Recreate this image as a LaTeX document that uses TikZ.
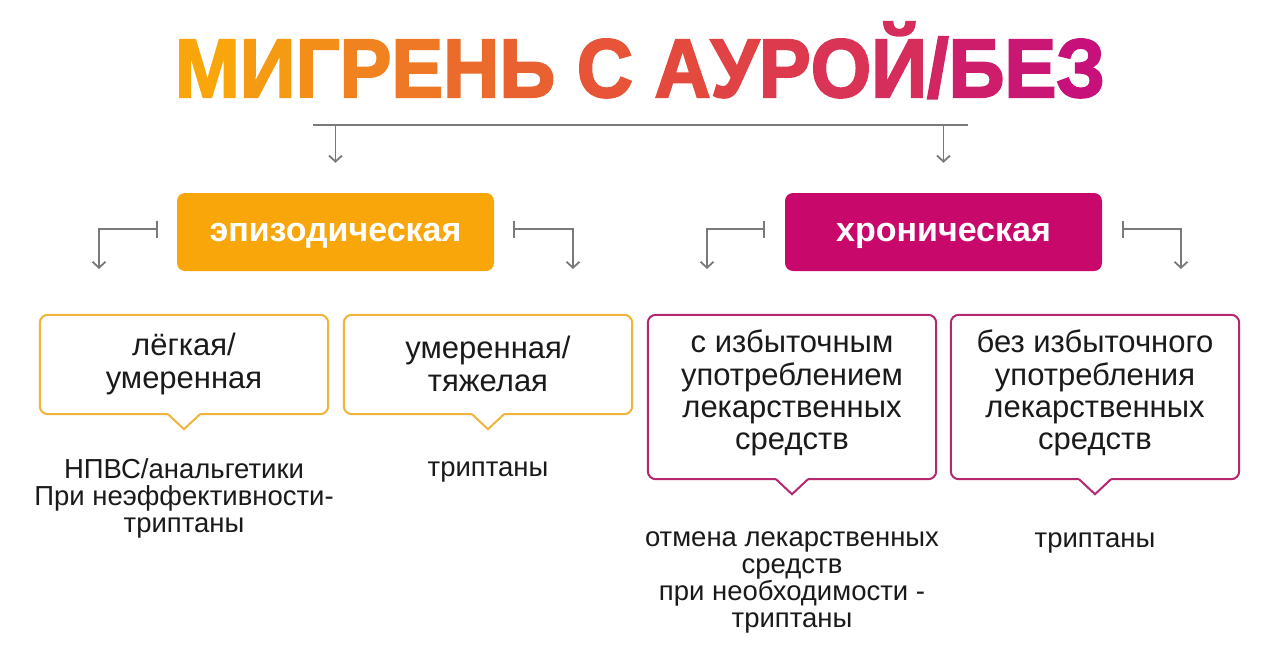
\documentclass[tikz,border=0pt]{standalone}
\usepackage{fontspec}
\usepackage{graphicx}
\setmainfont{Liberation Sans}
\newfontfamily\titlefont{Liberation Sans}[BoldFeatures={FakeBold=2.5}]
\usetikzlibrary{arrows.meta}
\definecolor{tO}{HTML}{F8A60C}
\definecolor{tR}{HTML}{E4493E}
\definecolor{tP}{HTML}{C7107A}
\definecolor{epi}{HTML}{F9A60A}
\definecolor{chr}{HTML}{C8096B}
\definecolor{epiL}{HTML}{F0B43C}
\definecolor{chrL}{HTML}{B5286F}
\definecolor{conncol}{HTML}{7A7A7A}
\definecolor{txt}{HTML}{1A1A1A}
\newcommand\lowered[1]{\raisebox{-4pt}[\height][\depth]{#1}}
\begin{document}
\begin{tikzpicture}[x=1pt,y=-1pt,
  conn/.style={draw=conncol, line width=1.8pt},
  arr/.style={conn, -{Straight Barb[length=6pt,width=13pt]}},
  side/.style={conn, {Bar[width=17pt]}-{Straight Barb[length=6pt,width=13pt]}},
  mainbox/.style={rounded corners=8pt, minimum width=317pt, minimum height=78pt, inner sep=0pt,
    text=white, font=\fontsize{34}{36}\selectfont\bfseries},
  frameA/.style={minimum width=288pt, minimum height=99pt, inner sep=0pt},
  frameB/.style={minimum width=288pt, minimum height=164pt, inner sep=0pt},
  boxtext/.style={align=center, inner sep=0pt, text=txt, font=\fontsize{31}{32.3}\selectfont},
  lowtext/.style={align=center, inner sep=0pt, text=txt, font=\fontsize{27.5}{27}\selectfont},
  outl/.style={line width=2pt, rounded corners=8pt}
]
\fill[white] (0,0) rectangle (1280,667);
\useasboundingbox (0,0) rectangle (1280,667);

% title
\node[anchor=base, inner sep=0pt] (title) at (640,97) {\resizebox{930pt}{\height}{\titlefont\bfseries\fontsize{83}{84}\selectfont
\textcolor{tO}{М}\textcolor{tO!87!tR}{И}\textcolor{tO!75!tR}{Г}\textcolor{tO!62!tR}{Р}\textcolor{tO!50!tR}{Е}\textcolor{tO!37!tR}{Н}\textcolor{tO!25!tR}{Ь} \textcolor{tO!12!tR}{С} \textcolor{tR}{А}\textcolor{tR!87!tP}{У}\textcolor{tR!75!tP}{Р}\textcolor{tR!62!tP}{О}\textcolor{tR!50!tP}{Й}\textcolor{tR!37!tP}{/}\textcolor{tR!25!tP}{Б}\textcolor{tR!12!tP}{Е}\textcolor{tP}{З}}};

% main boxes
\node[mainbox, fill=epi] (epi) at (335.5,232) {\lowered{эпизодическая}};
\node[mainbox, fill=chr] (chr) at (943.5,232) {\lowered{хроническая}};

% top connector
\coordinate (hl) at (313,125);
\coordinate (hr) at (968,125);
\draw[conn] (hl) -- (hr);
\draw[arr] (epi.north |- hl) -- ([yshift=30pt]epi.north);
\draw[arr] (chr.north |- hl) -- ([yshift=30pt]chr.north);

% side connectors
\coordinate (e1) at (99,269);
\coordinate (e2) at (573,269);
\coordinate (e3) at (707,269);
\coordinate (e4) at (1181,269);
\draw[side] ([xshift=-19pt,yshift=3pt]epi.west) -| (e1);
\draw[side] ([xshift=19pt,yshift=3pt]epi.east) -| (e2);
\draw[side] ([xshift=-20pt,yshift=3pt]chr.west) -| (e3);
\draw[side] ([xshift=20pt,yshift=3pt]chr.east) -| (e4);

% callout frames
\node[frameA] (f1) at (184,364.5) {};
\node[frameA] (f2) at (488,364.5) {};
\node[frameB] (f3) at (792,397) {};
\node[frameB] (f4) at (1095,397) {};

\foreach \f/\c in {f1/epiL,f2/epiL,f3/chrL,f4/chrL}{
  \draw[outl, draw=\c] (\f.north west) rectangle (\f.south east);
  \fill[white] ([xshift=-16.5pt,yshift=1.3pt]\f.south) -- ([xshift=16.5pt,yshift=1.3pt]\f.south) -- ([yshift=-15pt]\f.south) -- cycle;
  \draw[line width=2pt, draw=\c, line join=miter] ([xshift=-16pt]\f.south) -- ([yshift=-15pt]\f.south) -- ([xshift=16pt]\f.south);
}

% box texts
\node[boxtext] (t1) at (184,364) {лёгкая/\\умеренная};
\node[boxtext] (t2) at (488,364) {умеренная/\\тяжелая};
\node[boxtext] (t3) at (792,393) {с избыточным\\употреблением\\лекарственных\\средств};
\node[boxtext] (t4) at (1095,393) {без избыточного\\употребления\\лекарственных\\средств};

% lower texts
\node[lowtext] (l1) at (184,498) {НПВС/анальгетики\\При неэффективности-\\триптаны};
\node[lowtext] (l2) at (488,472) {триптаны};
\node[lowtext] (l3) at (792,582) {отмена лекарственных\\средств\\при необходимости -\\триптаны};
\node[lowtext] (l4) at (1095,543) {триптаны};
\end{tikzpicture}
\end{document}
